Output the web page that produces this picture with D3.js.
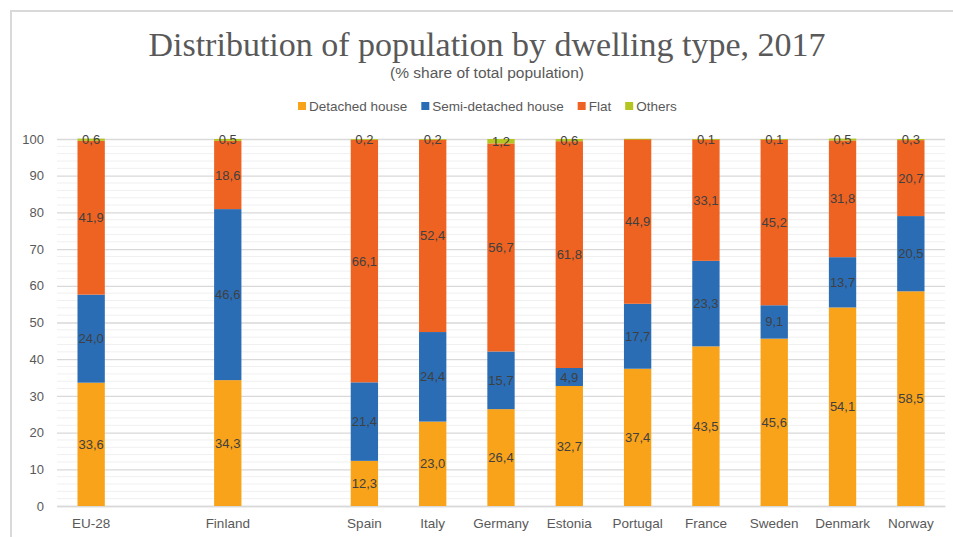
<!DOCTYPE html>
<html>
<head>
<meta charset="utf-8">
<script src="https://cdn.jsdelivr.net/npm/d3@7"></script>
<style>
  body { margin: 0; background: #fff; }
  svg text { font-family: "Liberation Sans", Arial, sans-serif; }
</style>
</head>
<body>
<div class="canvas"></div>
<script>
// data
const countries = ["EU-28", "Finland", "Spain", "Italy", "Germany", "Estonia", "Portugal", "France", "Sweden", "Denmark", "Norway"]
const detached = [33.6, 34.3, 12.3, 23.0, 26.4, 32.7, 37.4, 43.5, 45.6, 54.1, 58.5]
const semiDetached = [24.0, 46.6, 21.4, 24.4, 15.7, 4.9, 17.7, 23.3, 9.1, 13.7, 20.5]
const flat = [41.9, 18.6, 66.1, 52.4, 56.7, 61.8, 44.9, 33.1, 45.2, 31.8, 20.7]
const others = [0.6, 0.5, 0.2, 0.2, 1.2, 0.6, 0.05, 0.1, 0.1, 0.5, 0.3]
const seriesNames = ["Detached house", "Semi-detached house", "Flat", "Others"]
const seriesColors = ["#f9a31b", "#2a6db5", "#ef6322", "#b4c420"]
const yTicks = [0, 10, 20, 30, 40, 50, 60, 70, 80, 90, 100]

// x slots, with empty gaps after EU-28 and Finland
const slots = ["EU-28", "gap1", "Finland", "gap2", "Spain", "Italy", "Germany", "Estonia", "Portugal", "France", "Sweden", "Denmark", "Norway"]

const svgWidth = 953
const svgHeight = 537
const plot = {left: 57, right: 945, top: 139, bottom: 506}

const svg = d3.select('.canvas')
    .append('svg')
    .attr('width', svgWidth)
    .attr('height', svgHeight);

// frame
svg.append('path')
    .attr('d', `M11,${svgHeight} V11 H${svgWidth}`)
    .attr('fill', 'none')
    .attr('stroke', '#d9d9d9')
    .attr('stroke-width', 2);

// title
svg.append('text')
    .text('Distribution of population by dwelling type, 2017')
    .attr('x', 487).attr('y', 56)
    .attr('text-anchor', 'middle')
    .style('font-family', '"Liberation Serif", "DejaVu Serif", serif')
    .attr('font-size', '34px')
    .attr('fill', '#595959');

svg.append('text')
    .text('(% share of total population)')
    .attr('x', 487).attr('y', 78)
    .attr('text-anchor', 'middle')
    .attr('font-size', '15.5px')
    .attr('fill', '#595959');

// scales
const x = d3.scaleBand().domain(slots).range([plot.left, plot.right]).paddingInner(0.6).paddingOuter(0.3);
const y = d3.scaleLinear().domain([0, 100]).range([plot.bottom, plot.top]);

// minor grid every 2
svg.append('g')
    .selectAll('line')
    .data(d3.range(2, 100, 2).filter(v => v % 10 !== 0))
    .enter().append('line')
    .attr('x1', plot.left).attr('x2', plot.right)
    .attr('y1', d => y(d)).attr('y2', d => y(d))
    .attr('stroke', '#f0f0f0')
    .attr('stroke-width', 1);

// y axis with major grid
const yAxisGroup = svg.append('g')
    .attr('class', 'y-axis')
    .attr('transform', `translate(${plot.left},0)`)
    .call(d3.axisLeft(y).tickValues(yTicks).tickSize(-(plot.right - plot.left)).tickPadding(13));
yAxisGroup.select('.domain').remove();
yAxisGroup.selectAll('line').attr('stroke', '#d9d9d9').attr('stroke-width', 1.3);
yAxisGroup.selectAll('text').attr('font-size', '13px').attr('fill', '#595959')
    .style('font-family', '"Liberation Sans", Arial, sans-serif');

// x axis
const xAxisGroup = svg.append('g')
    .attr('class', 'x-axis')
    .attr('transform', `translate(0,${plot.bottom})`)
    .call(d3.axisBottom(x).tickSize(0).tickPadding(12).tickFormat(d => d.startsWith('gap') ? '' : d));
xAxisGroup.select('.domain').attr('stroke', '#d9d9d9').attr('stroke-width', 1.3);
xAxisGroup.selectAll('text').attr('font-size', '13.5px').attr('fill', '#595959')
    .style('font-family', '"Liberation Sans", Arial, sans-serif');

// stack the data
const table = countries.map((c, i) => ({
    country: c,
    "Detached house": detached[i],
    "Semi-detached house": semiDetached[i],
    "Flat": flat[i],
    "Others": others[i]
}));
const stacked = d3.stack().keys(seriesNames)(table);

const layers = svg.append('g')
    .selectAll('g')
    .data(stacked)
    .enter().append('g')
    .attr('fill', (d, i) => seriesColors[i]);

layers.selectAll('rect')
    .data(d => d)
    .enter().append('rect')
    .attr('x', d => x(d.data.country))
    .attr('width', x.bandwidth())
    .attr('y', d => y(d[1]))
    .attr('height', d => Math.max(0.8, y(d[0]) - y(d[1])));

// data labels (Portugal's tiny "others" sliver carries no label)
const fmt = v => v.toFixed(1).replace('.', ',');
layers.selectAll('text')
    .data(d => d.filter(s => s[1] - s[0] >= 0.09))
    .enter().append('text')
    .text(d => fmt(d[1] - d[0]))
    .attr('x', d => x(d.data.country) + x.bandwidth() / 2)
    .attr('y', d => (y(d[0]) + y(d[1])) / 2)
    .attr('dy', '0.35em')
    .attr('text-anchor', 'middle')
    .attr('font-size', '13px')
    .attr('fill', '#404040');

// legend
const legend = svg.append('g').attr('transform', 'translate(0,106)');
let lx = 298;
seriesNames.forEach((name, i) => {
    legend.append('rect')
        .attr('x', lx).attr('y', -4)
        .attr('width', 8).attr('height', 8)
        .attr('fill', seriesColors[i]);
    const t = legend.append('text')
        .text(name)
        .attr('x', lx + 11).attr('y', 0)
        .attr('dy', '0.35em')
        .attr('font-size', '13.5px')
        .attr('fill', '#595959');
    lx += 11 + t.node().getComputedTextLength() + 14;
});
</script>
</body>
</html>
